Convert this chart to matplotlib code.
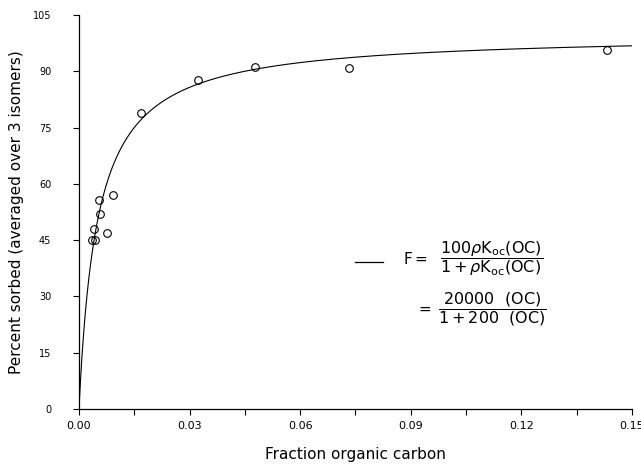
import numpy as np
import matplotlib
matplotlib.use("Agg")
import matplotlib.pyplot as plt
from matplotlib.ticker import MultipleLocator, FormatStrFormatter

# measured points (fraction organic carbon, percent sorbed)
oc_frac = [0.0036, 0.0043, 0.0041, 0.0058, 0.0055, 0.0075, 0.0093,
           0.0167, 0.0322, 0.0477, 0.0733, 0.1431]
pct_sorbed = [45.0, 45.0, 47.9, 52.0, 55.7, 47.0, 56.9,
              78.8, 87.7, 91.0, 90.8, 95.7]

# fitted model F = 20000(OC) / (1 + 200(OC))
fit_a = 20000
fit_b = 200

plt.rcParams["mathtext.fontset"] = "dejavusans"

fig = plt.figure(figsize=(6.41, 4.67), dpi=100)
ax = fig.add_axes([0.1232, 0.1242, 0.8628, 0.8438])

xs = np.linspace(0, 0.15, 3000)
ax.plot(xs, fit_a * xs / (1 + fit_b * xs), color="black", lw=0.8)
ax.plot(oc_frac, pct_sorbed, "o", mfc="none", mec="black", ms=5.5, mew=0.8)

ax.set_xlim(0, 0.15)
ax.set_ylim(0, 105)
ax.xaxis.set_major_locator(MultipleLocator(0.03))
ax.xaxis.set_minor_locator(MultipleLocator(0.015))
ax.yaxis.set_major_locator(MultipleLocator(15))
ax.xaxis.set_major_formatter(FormatStrFormatter("%.2f"))

for s in ["top", "right"]:
    ax.spines[s].set_visible(False)
for s in ["left", "bottom"]:
    ax.spines[s].set_linewidth(0.9)

ax.tick_params(which="major", length=4, width=0.8)
ax.tick_params(which="minor", length=4, width=0.8)
ax.tick_params(axis="x", labelsize=8, pad=5)
ax.tick_params(axis="y", labelsize=7, pad=16)

ax.set_xlabel("Fraction organic carbon", fontsize=11, labelpad=11)
ax.set_ylabel("Percent sorbed (averaged over 3 isomers)", fontsize=11, labelpad=6)

# legend-like annotation
ax.plot([0.075, 0.0825], [39.2, 39.2], color="black", lw=0.9)
ax.text(0.0880, 40.0, r"F$=$", fontsize=11, va="center", ha="left")
ax.text(0.0980, 40.0,
        r"$\dfrac{\mathrm{100}\rho\mathrm{K_{oc}(OC)}}{\mathrm{1+}\rho\mathrm{K_{oc}(OC)}}$",
        fontsize=11.5, va="center", ha="left")
ax.text(0.0915, 26.7, r"$=$", fontsize=11, va="center", ha="left")
ax.text(0.0975, 26.7, r"$\dfrac{\mathrm{20000\ \ (OC)}}{\mathrm{1+200\ \ (OC)}}$",
        fontsize=11.5, va="center", ha="left")

fig.savefig("out.png", dpi=100)
